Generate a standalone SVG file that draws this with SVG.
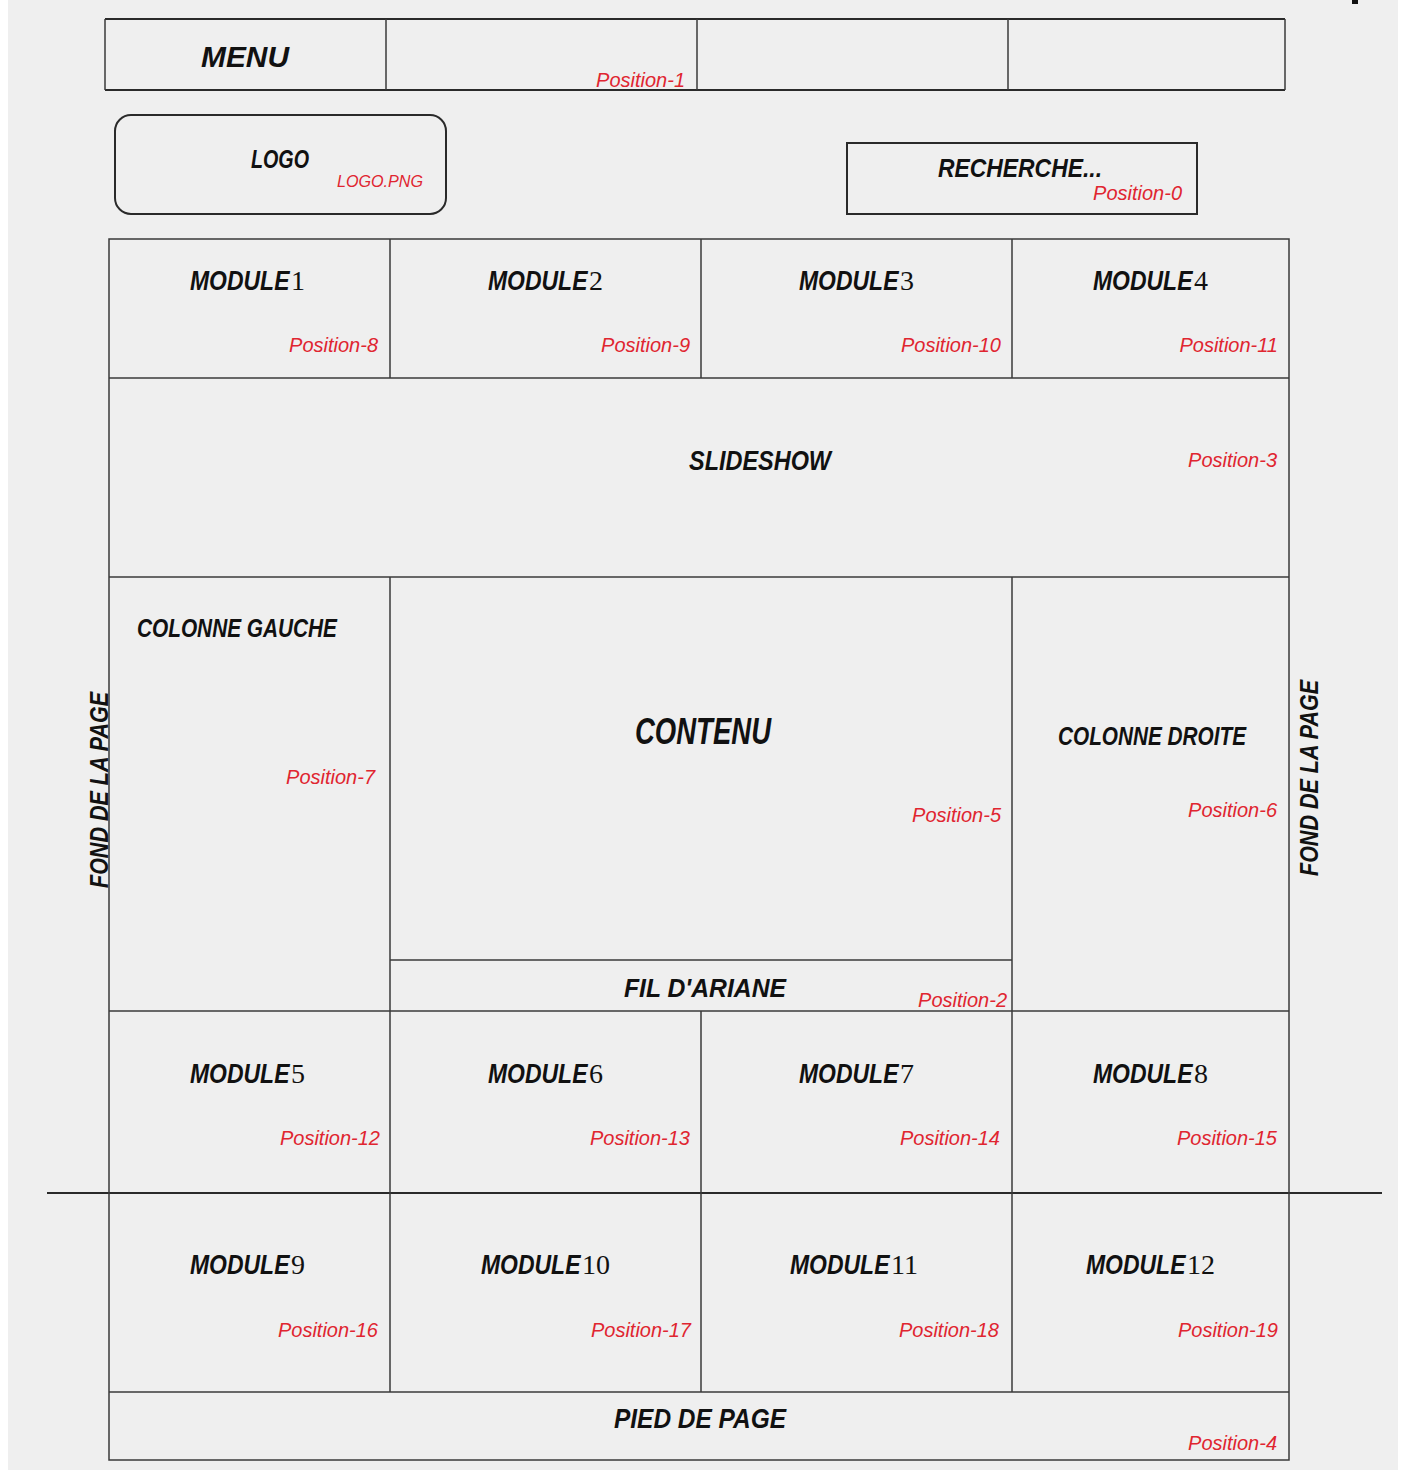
<svg xmlns="http://www.w3.org/2000/svg" width="1408" height="1477" viewBox="0 0 1408 1477">
<defs>
<style>
.ln{stroke:#3a3a3a;stroke-width:1.5;fill:none}
.thk{stroke:#2a2a2a;stroke-width:2;fill:none}
.lbl{font-family:"Liberation Sans",Arial,sans-serif;font-weight:bold;font-style:italic;fill:#111;text-anchor:middle}
.mod{font-family:"Liberation Sans",Arial,sans-serif;font-weight:bold;font-style:italic;fill:#111;font-size:28px}
.num{font-family:"Liberation Serif","Times New Roman",serif;fill:#111;font-size:28px}
.pos{font-family:"Liberation Sans",Arial,sans-serif;font-style:italic;font-size:20px;fill:#e02530;text-anchor:end}
</style>
</defs>
<rect x="0" y="0" width="1408" height="1477" fill="#ffffff"/>
<rect x="8" y="0" width="1390" height="1470" fill="#efefef"/>
<rect x="1352" y="0" width="6" height="4" fill="#111"/>

<g id="connectors">
<line class="thk" x1="47" y1="1193" x2="1382" y2="1193"/>
</g>

<g id="menu">
<line class="thk" x1="105" y1="19" x2="1285" y2="19"/>
<line class="thk" x1="105" y1="90" x2="1285" y2="90"/>
<line class="ln" x1="105" y1="19" x2="105" y2="90"/>
<line class="ln" x1="1285" y1="19" x2="1285" y2="90"/>
<line class="ln" x1="386" y1="19" x2="386" y2="90"/>
<line class="ln" x1="697" y1="19" x2="697" y2="90"/>
<line class="ln" x1="1008" y1="19" x2="1008" y2="90"/>
<text class="lbl" x="245" y="67" font-size="30" textLength="88" lengthAdjust="spacingAndGlyphs">MENU</text>
<text class="pos" x="685" y="87">Position-1</text>
</g>

<g id="logo">
<rect class="thk" x="115" y="115" width="331" height="99" rx="16"/>
<text class="lbl" x="280" y="168" font-size="26" textLength="58" lengthAdjust="spacingAndGlyphs">LOGO</text>
<text class="pos" x="423" y="187" style="font-size:16px" textLength="86" lengthAdjust="spacingAndGlyphs">LOGO.PNG</text>
</g>

<g id="recherche">
<rect class="thk" x="847" y="143" width="350" height="71"/>
<text class="lbl" x="1020" y="177" font-size="26" textLength="164" lengthAdjust="spacingAndGlyphs">RECHERCHE...</text>
<text class="pos" x="1182" y="200">Position-0</text>
</g>

<g id="grid">
<rect class="ln" x="109" y="239" width="1180" height="1221"/>
<line class="ln" x1="109" y1="378" x2="1289" y2="378"/>
<line class="ln" x1="109" y1="577" x2="1289" y2="577"/>
<line class="ln" x1="390" y1="960" x2="1012" y2="960"/>
<line class="ln" x1="109" y1="1011" x2="1289" y2="1011"/>
<line class="ln" x1="109" y1="1392" x2="1289" y2="1392"/>
<line class="ln" x1="390" y1="239" x2="390" y2="378"/>
<line class="ln" x1="701" y1="239" x2="701" y2="378"/>
<line class="ln" x1="1012" y1="239" x2="1012" y2="378"/>
<line class="ln" x1="390" y1="577" x2="390" y2="1392"/>
<line class="ln" x1="1012" y1="577" x2="1012" y2="1392"/>
<line class="ln" x1="701" y1="1011" x2="701" y2="1392"/>
</g>

<g id="module1"><text class="mod" transform="translate(190,290) scale(0.82,1)">MODULE</text><text class="num" x="291" y="290">1</text><text class="pos" x="378" y="352">Position-8</text></g>
<g id="module2"><text class="mod" transform="translate(488,290) scale(0.82,1)">MODULE</text><text class="num" x="589" y="290">2</text><text class="pos" x="690" y="352">Position-9</text></g>
<g id="module3"><text class="mod" transform="translate(799,290) scale(0.82,1)">MODULE</text><text class="num" x="900" y="290">3</text><text class="pos" x="1001" y="352">Position-10</text></g>
<g id="module4"><text class="mod" transform="translate(1093,290) scale(0.82,1)">MODULE</text><text class="num" x="1194" y="290">4</text><text class="pos" x="1278" y="352">Position-11</text></g>

<g id="slideshow"><text class="lbl" x="760" y="470" font-size="28" textLength="142" lengthAdjust="spacingAndGlyphs">SLIDESHOW</text><text class="pos" x="1277" y="467">Position-3</text></g>

<g id="colonne-gauche"><text class="lbl" x="237" y="637" font-size="26" textLength="200" lengthAdjust="spacingAndGlyphs">COLONNE GAUCHE</text><text class="pos" x="375" y="784">Position-7</text></g>

<g id="contenu"><text class="lbl" x="703" y="744" font-size="36" textLength="136" lengthAdjust="spacingAndGlyphs">CONTENU</text><text class="pos" x="1001" y="822">Position-5</text></g>

<g id="colonne-droite"><text class="lbl" x="1152" y="745" font-size="26" textLength="188" lengthAdjust="spacingAndGlyphs">COLONNE DROITE</text><text class="pos" x="1277" y="817">Position-6</text></g>

<g id="fil-ariane"><text class="lbl" x="705" y="997" font-size="26" textLength="162" lengthAdjust="spacingAndGlyphs">FIL D'ARIANE</text><text class="pos" x="1007" y="1007">Position-2</text></g>

<g id="module5"><text class="mod" transform="translate(190,1083) scale(0.82,1)">MODULE</text><text class="num" x="291" y="1083">5</text><text class="pos" x="380" y="1145">Position-12</text></g>
<g id="module6"><text class="mod" transform="translate(488,1083) scale(0.82,1)">MODULE</text><text class="num" x="589" y="1083">6</text><text class="pos" x="690" y="1145">Position-13</text></g>
<g id="module7"><text class="mod" transform="translate(799,1083) scale(0.82,1)">MODULE</text><text class="num" x="900" y="1083">7</text><text class="pos" x="1000" y="1145">Position-14</text></g>
<g id="module8"><text class="mod" transform="translate(1093,1083) scale(0.82,1)">MODULE</text><text class="num" x="1194" y="1083">8</text><text class="pos" x="1277" y="1145">Position-15</text></g>

<g id="module9"><text class="mod" transform="translate(190,1274) scale(0.82,1)">MODULE</text><text class="num" x="291" y="1274">9</text><text class="pos" x="378" y="1337">Position-16</text></g>
<g id="module10"><text class="mod" transform="translate(481,1274) scale(0.82,1)">MODULE</text><text class="num" x="582" y="1274">10</text><text class="pos" x="691" y="1337">Position-17</text></g>
<g id="module11"><text class="mod" transform="translate(790,1274) scale(0.82,1)">MODULE</text><text class="num" x="891" y="1274">11</text><text class="pos" x="999" y="1337">Position-18</text></g>
<g id="module12"><text class="mod" transform="translate(1086,1274) scale(0.82,1)">MODULE</text><text class="num" x="1187" y="1274">12</text><text class="pos" x="1278" y="1337">Position-19</text></g>

<g id="pied-de-page"><text class="lbl" x="700" y="1428" font-size="28" textLength="172" lengthAdjust="spacingAndGlyphs">PIED DE PAGE</text><text class="pos" x="1277" y="1450">Position-4</text></g>

<g id="fond-gauche"><text class="lbl" transform="translate(108,790) rotate(-90)" x="0" y="0" font-size="26" textLength="196" lengthAdjust="spacingAndGlyphs">FOND DE LA PAGE</text></g>
<g id="fond-droite"><text class="lbl" transform="translate(1318,778) rotate(-90)" x="0" y="0" font-size="26" textLength="196" lengthAdjust="spacingAndGlyphs">FOND DE LA PAGE</text></g>
</svg>
